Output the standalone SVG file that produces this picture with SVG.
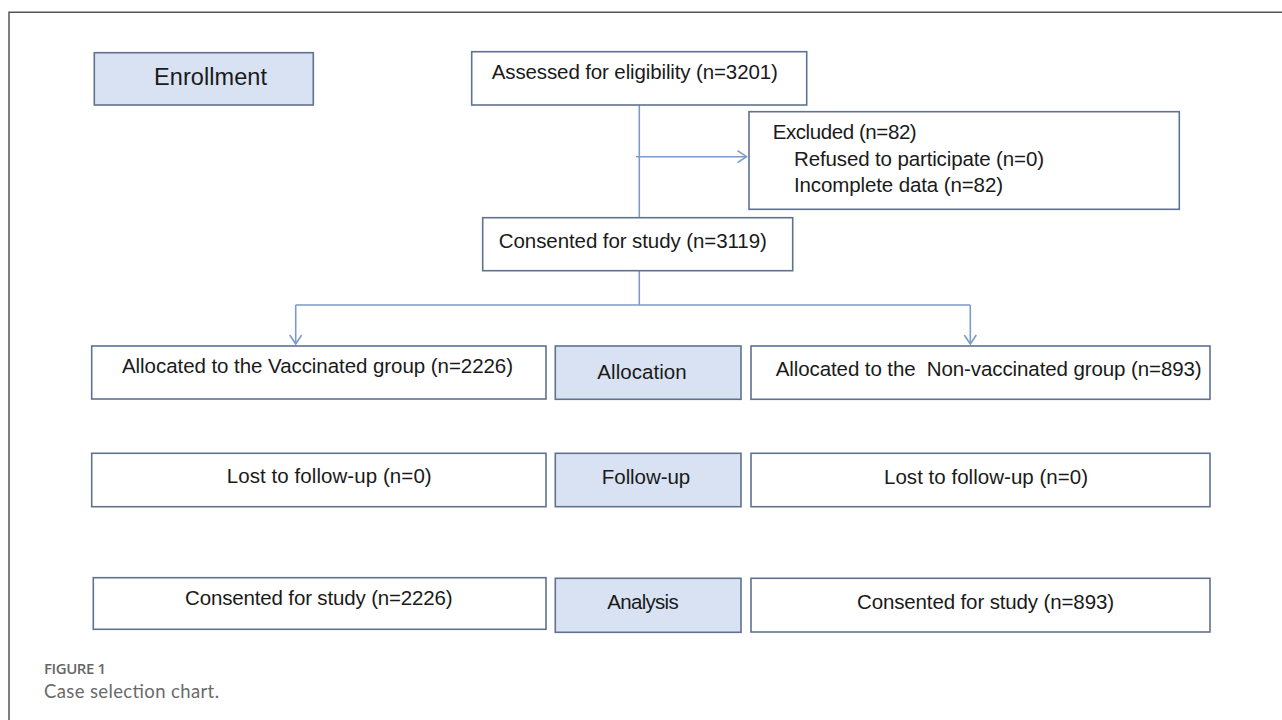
<svg xmlns="http://www.w3.org/2000/svg" width="1282" height="720" viewBox="0 0 1282 720">
<style>
.box{fill:#ffffff;stroke:#5f7290;stroke-width:1.6}
.phase{fill:#d9e2f3;stroke:#5f7290;stroke-width:1.6}
.t{font-family:"Liberation Sans",Arial,sans-serif;font-size:20.5px;fill:#1a1a1a}
.tp{font-family:"Liberation Sans",Arial,sans-serif;font-size:20.5px;fill:#1a1a1a;text-anchor:middle}
.conn{fill:none;stroke:#7d9bc9;stroke-width:1.6}
.frame{fill:none;stroke:#555555;stroke-width:1.5}
.cap1{font-family:"Open Sans","Liberation Sans",sans-serif;font-size:15px;font-weight:600;fill:#666666}
.cap2{font-family:Lato,"Open Sans","Liberation Sans",sans-serif;font-size:18.5px;font-weight:400;fill:#6a6a6a}
</style>
<defs>
<marker id="arr" markerUnits="userSpaceOnUse" markerWidth="12" markerHeight="14" refX="10" refY="6.5" orient="auto">
<path d="M1,0.5 L10,6.5 L1,12.5" fill="none" stroke="#7d9bc9" stroke-width="1.6"/>
</marker>
</defs>
<rect width="1282" height="720" fill="#ffffff"/>
<path class="frame" d="M9,720 V12.3 H1282"/>

<g id="connectors">
<path class="conn" d="M639.3,105 V218"/>
<path class="conn" d="M636,156.7 H746.5" marker-end="url(#arr)"/>
<path class="conn" d="M639.3,271 V305 M295.7,305 H970.3"/>
<path class="conn" d="M295.7,305 V344" marker-end="url(#arr)"/>
<path class="conn" d="M970.3,305 V344" marker-end="url(#arr)"/>
</g>

<g id="enrollment">
<rect class="phase" x="94.3" y="52.7" width="219" height="52.3"/>
<text class="tp" x="210.5" y="85" style="font-size:23.5px" textLength="113">Enrollment</text>
</g>

<g id="assessed">
<rect class="box" x="471.7" y="51.7" width="335" height="53.3"/>
<text class="t" x="491.8" y="79.3" textLength="286">Assessed for eligibility (n=3201)</text>
</g>

<g id="excluded">
<rect class="box" x="749" y="111.7" width="430.3" height="97.6"/>
<text class="t" x="772.7" y="139" textLength="144">Excluded (n=82)</text>
<text class="t" x="794" y="165.5" textLength="250">Refused to participate (n=0)</text>
<text class="t" x="794" y="191.7" textLength="209">Incomplete data (n=82)</text>
</g>

<g id="consented">
<rect class="box" x="482.7" y="217.7" width="310" height="53"/>
<text class="t" x="498.8" y="248.3" textLength="268">Consented for study (n=3119)</text>
</g>

<g id="vaccinated">
<rect class="box" x="91.7" y="346" width="454.3" height="53"/>
<text class="t" x="122" y="373.3" textLength="391">Allocated to the Vaccinated group (n=2226)</text>
</g>

<g id="allocation">
<rect class="phase" x="555.3" y="346" width="185.7" height="53.3"/>
<text class="tp" x="642" y="379.3" textLength="89.3">Allocation</text>
</g>

<g id="nonvaccinated">
<rect class="box" x="751" y="346" width="459" height="53.3"/>
<text class="t" x="775.7" y="376" textLength="426" xml:space="preserve">Allocated to the  Non-vaccinated group (n=893)</text>
</g>

<g id="lost-left">
<rect class="box" x="91.7" y="453.3" width="454.3" height="53.4"/>
<text class="t" x="226.7" y="483.3" textLength="205">Lost to follow-up (n=0)</text>
</g>

<g id="followup">
<rect class="phase" x="555.3" y="453.3" width="185.7" height="53.4"/>
<text class="tp" x="646" y="484" textLength="88.3">Follow-up</text>
</g>

<g id="lost-right">
<rect class="box" x="751" y="453.3" width="459" height="53.4"/>
<text class="t" x="884" y="484" textLength="204">Lost to follow-up (n=0)</text>
</g>

<g id="consented-left">
<rect class="box" x="93.3" y="577.7" width="452.7" height="51.6"/>
<text class="t" x="185" y="605" textLength="267.7">Consented for study (n=2226)</text>
</g>

<g id="analysis">
<rect class="phase" x="555.3" y="578.3" width="185.7" height="54"/>
<text class="tp" x="643" y="609.3" textLength="71.3">Analysis</text>
</g>

<g id="consented-right">
<rect class="box" x="751" y="578.3" width="459" height="53.7"/>
<text class="t" x="857" y="609" textLength="257">Consented for study (n=893)</text>
</g>

<text class="cap1" x="44" y="674" textLength="62">FIGURE 1</text>
<text class="cap2" x="44" y="697.7" textLength="175">Case selection chart.</text>
</svg>
